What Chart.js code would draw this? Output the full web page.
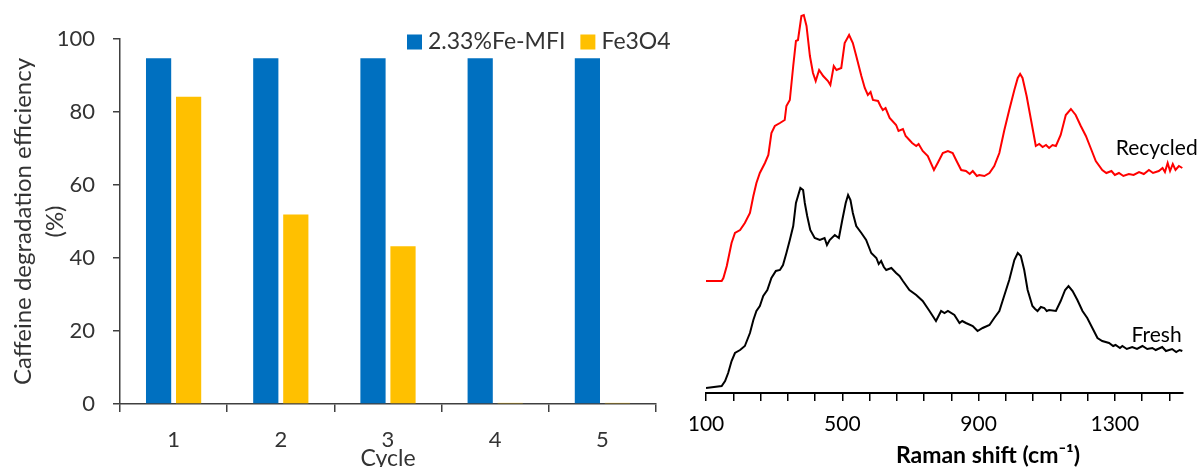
<!DOCTYPE html>
<html>
<head>
<meta charset="utf-8">
<script src="https://cdn.jsdelivr.net/npm/chart.js"></script>
<style>
  body { margin: 0; background: #fff; }
  #wrap { position: relative; width: 1202px; height: 467px; overflow: hidden; background: #fff; }
  canvas { position: absolute; top: 0; }
  #bars { left: 0; }
  #raman { left: 690px; }
</style>
</head>
<body>
<div id="wrap">
  <canvas id="bars" width="690" height="467"></canvas>
  <canvas id="raman" width="512" height="467"></canvas>
</div>
<script>
// left panel: degradation efficiency per cycle
const cycles = ['1', '2', '3', '4', '5'];
const feMfi = [94.7, 94.7, 94.7, 94.7, 94.7];
const fe3o4 = [84.2, 51.9, 43.2, 0.3, 0.3];

// right panel: raman spectra (intensity in arbitrary units)
const ramanTicks = [100, 180, 260, 340, 420, 500, 580, 660, 740, 820, 900, 980, 1060, 1140, 1220, 1300, 1380, 1460];
const ramanLabelled = [100, 500, 900, 1300];

const recycledShift = [100,146,151,161,175,185,200,214,229,239,248,258,273,283,292,302,317,331,336,346,356,364,370,380,387,395,405,414,422,432,444,458,465,475,483,497,507,520,531,541,556,566,575,583,590,605,612,619,627,639,658,665,678,686,697,705,717,724,736,751,769,780,795,810,824,834,849,863,874,883,895,902,917,932,946,961,975,990,1005,1015,1022,1029,1041,1054,1068,1078,1088,1098,1107,1117,1127,1141,1156,1171,1185,1200,1215,1229,1244,1263,1275,1290,1300,1312,1325,1341,1355,1371,1385,1400,1412,1429,1440,1447,1455,1462,1470,1478,1488,1498];
const recycledIntensity = [112,112,115,127,150,160,163,170,180,197,210,220,230,238,260,267,270,273,287,293,327,352,353,377,378,367,337,320,312,323,317,312,308,327,323,325,350,358,350,337,317,305,298,301,293,292,287,283,285,275,268,262,264,257,253,250,247,249,242,237,223,230,240,242,240,233,223,222,219,222,217,218,217,220,227,240,262,283,303,315,319,315,297,273,247,249,246,248,245,248,247,258,278,284,278,267,257,245,232,223,220,222,218,220,217,219,218,221,219,223,220,222,225,221,230,222,229,223,227,225];

const freshShift = [100,146,156,165,175,185,200,214,229,239,248,258,268,280,292,305,317,326,336,346,356,364,370,377,385,390,397,406,419,434,448,455,463,478,490,500,510,517,524,531,541,556,570,585,600,607,614,622,629,644,658,668,678,697,717,736,756,775,790,800,810,829,844,852,863,883,897,912,932,946,961,975,990,1005,1015,1024,1034,1044,1058,1066,1073,1083,1093,1100,1107,1127,1141,1154,1164,1176,1190,1205,1219,1234,1249,1263,1283,1295,1302,1315,1322,1335,1351,1365,1381,1395,1410,1420,1439,1450,1468,1480,1490,1498];
const freshIntensity = [5,7,12,20,32,40,43,47,60,73,82,87,97,103,115,122,123,128,140,153,167,190,197,205,203,190,177,163,155,153,155,148,153,158,155,173,190,198,193,180,167,160,153,140,135,129,132,126,123,125,120,117,112,103,98,92,82,72,82,80,82,78,70,72,70,67,62,65,68,75,82,97,113,133,140,137,123,103,87,84,82,86,85,82,83,82,92,103,107,102,93,82,75,65,55,52,50,47,48,45,47,44,46,44,47,44,45,43,46,42,44,41,43,42];

const textColor = '#333333';
const fontFamily = 'Lato, "Noto Sans", sans-serif';

function toPoints(xs, ys) {
    return xs.map((x, i) => ({x: x, y: ys[i]}));
}

// legend drawn inside the plot, top right, like the original
const legendBoxes = {
    id: 'legendBoxes',
    afterDraw(chart) {
        const {ctx, chartArea} = chart;
        ctx.save();
        ctx.font = '23px ' + fontFamily;
        ctx.textBaseline = 'middle';
        let x = chartArea.left + 287;
        const y = chartArea.top + 3;
        chart.data.datasets.forEach(ds => {
            ctx.fillStyle = ds.backgroundColor;
            ctx.fillRect(x, y - 7.5, 15, 15);
            ctx.fillStyle = textColor;
            ctx.fillText(ds.label, x + 21, y);
            x += 21 + ctx.measureText(ds.label).width + 15;
        });
        ctx.restore();
    }
};

// curve names at the right end of each spectrum, plus the axis title (sits right of centre)
const curveLabels = {
    id: 'curveLabels',
    afterDatasetsDraw(chart) {
        const {ctx, scales, chartArea} = chart;
        const spots = [[1543, 245], [1496, 58]];
        ctx.save();
        ctx.font = '21px ' + fontFamily;
        ctx.fillStyle = '#000';
        ctx.textAlign = 'right';
        ctx.textBaseline = 'middle';
        chart.data.datasets.forEach((ds, i) => {
            ctx.fillText(ds.label, scales.x.getPixelForValue(spots[i][0]), scales.y.getPixelForValue(spots[i][1]));
        });
        ctx.font = 'bold 23px ' + fontFamily;
        ctx.textAlign = 'center';
        ctx.fillText('Raman shift (cm\u207B\u00B9)', chartArea.left + 282, chart.height - 11);
        ctx.restore();
    }
};

new Chart(document.getElementById('bars'), {
    type: 'bar',
    data: {
        labels: cycles,
        datasets: [{
            label: '2.33%Fe-MFI',
            data: feMfi,
            backgroundColor: '#0070C0',
            categoryPercentage: 0.56,
            barPercentage: 0.84
        }, {
            label: 'Fe3O4',
            data: fe3o4,
            backgroundColor: '#FFC000',
            categoryPercentage: 0.56,
            barPercentage: 0.84
        }]
    },
    options: {
        responsive: false,
        animation: false,
        layout: {padding: {top: 39, right: 34, left: 0, bottom: 0}},
        plugins: {legend: {display: false}, tooltip: {enabled: false}},
        scales: {
            x: {
                grid: {offset: true, drawOnChartArea: false, tickLength: 8, color: '#404040', lineWidth: 1.5},
                border: {color: '#404040', width: 1.5},
                ticks: {padding: 15, color: textColor, font: {family: fontFamily, size: 22}},
                title: {display: true, text: 'Cycle', color: textColor, padding: 0, font: {family: fontFamily, size: 23, lineHeight: 0.75}},
                afterFit: s => { s.height = 63; }
            },
            y: {
                min: 0,
                max: 100,
                grid: {drawOnChartArea: false, tickLength: 7, color: '#404040', lineWidth: 1.5},
                border: {color: '#404040', width: 1.5},
                ticks: {stepSize: 20, padding: 18, color: textColor, font: {family: fontFamily, size: 22}},
                title: {
                    display: true,
                    text: ['Caffeine degradation efficiency', '(%)'],
                    color: textColor,
                    padding: {top: 7, bottom: 0},
                    font: {family: fontFamily, size: 24, lineHeight: 1.333}
                },
                afterFit: s => { s.width = 120; }
            }
        }
    },
    plugins: [legendBoxes]
});

new Chart(document.getElementById('raman'), {
    type: 'line',
    data: {
        datasets: [{
            label: 'Recycled',
            data: toPoints(recycledShift, recycledIntensity),
            borderColor: '#FF0000',
            borderWidth: 2,
            pointRadius: 0,
            tension: 0
        }, {
            label: 'Fresh',
            data: toPoints(freshShift, freshIntensity),
            borderColor: '#000000',
            borderWidth: 2,
            pointRadius: 0,
            tension: 0
        }]
    },
    options: {
        responsive: false,
        animation: false,
        layout: {padding: {top: 3, left: 16, right: 19, bottom: 0}},
        plugins: {legend: {display: false}, tooltip: {enabled: false}},
        scales: {
            x: {
                type: 'linear',
                min: 100,
                max: 1500,
                afterBuildTicks: s => { s.ticks = ramanTicks.map(v => ({value: v})); },
                ticks: {
                    autoSkip: false,
                    maxRotation: 0,
                    padding: 11,
                    color: '#000',
                    font: {family: fontFamily, size: 21},
                    callback: v => ramanLabelled.includes(v) ? String(v) : ''
                },
                grid: {drawOnChartArea: false, tickLength: 8, color: '#000', lineWidth: 1.5},
                border: {color: '#000', width: 2},
                afterFit: s => { s.height = 74; s.paddingLeft = 0; s.paddingRight = 0; }
            },
            y: {display: false, min: 0, max: 390}
        }
    },
    plugins: [curveLabels]
});
</script>
</body>
</html>
